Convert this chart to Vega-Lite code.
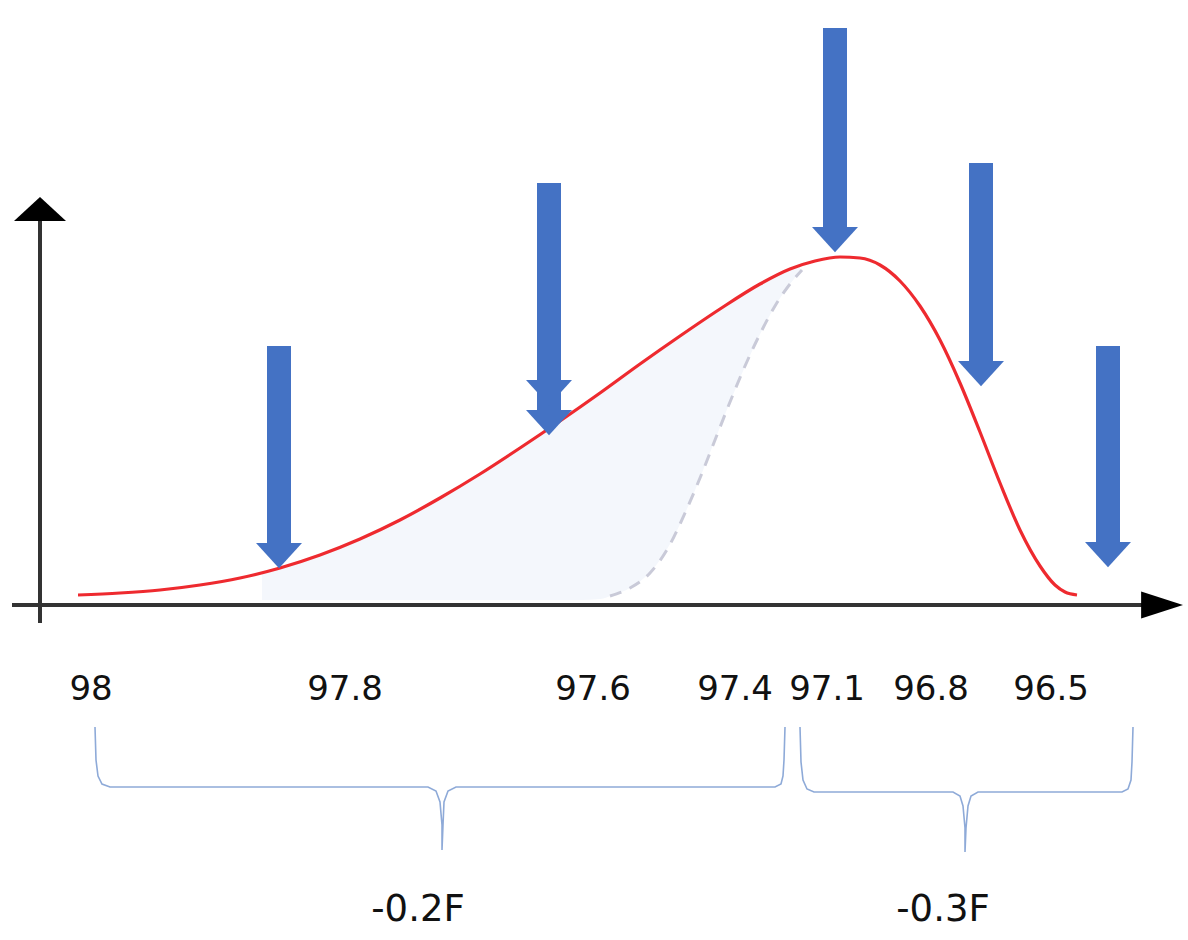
{
  "$schema": "https://vega.github.io/schema/vega-lite/v6.json",
  "width": 1188,
  "height": 940,
  "autosize": {"type": "fit", "contains": "padding"},
  "padding": 0,
  "background": "white",
  "config": {"view": {"stroke": null}},
  "datasets": {
    "curve": [
      {"x": 78, "y": 595}, {"x": 120, "y": 593}, {"x": 160, "y": 590}, {"x": 200, "y": 585},
      {"x": 240, "y": 578}, {"x": 280, "y": 568}, {"x": 320, "y": 555}, {"x": 360, "y": 539},
      {"x": 400, "y": 520}, {"x": 440, "y": 498}, {"x": 480, "y": 474}, {"x": 520, "y": 448},
      {"x": 560, "y": 421}, {"x": 600, "y": 393}, {"x": 640, "y": 364}, {"x": 680, "y": 336},
      {"x": 720, "y": 309}, {"x": 760, "y": 284}, {"x": 790, "y": 269}, {"x": 815, "y": 261},
      {"x": 840, "y": 257}, {"x": 860, "y": 258}, {"x": 880, "y": 265}, {"x": 900, "y": 281},
      {"x": 920, "y": 306}, {"x": 940, "y": 340}, {"x": 960, "y": 383}, {"x": 980, "y": 432},
      {"x": 1000, "y": 483}, {"x": 1020, "y": 530}, {"x": 1040, "y": 566}, {"x": 1055, "y": 585},
      {"x": 1065, "y": 592}, {"x": 1077, "y": 595}
    ],
    "shade": [
      {"x": 262, "top": 573, "bottom": 600}, {"x": 300, "top": 562, "bottom": 600},
      {"x": 340, "top": 547, "bottom": 600}, {"x": 380, "top": 530, "bottom": 600},
      {"x": 420, "top": 509, "bottom": 600}, {"x": 460, "top": 486, "bottom": 600},
      {"x": 500, "top": 461, "bottom": 600}, {"x": 540, "top": 435, "bottom": 600},
      {"x": 580, "top": 407, "bottom": 600}, {"x": 600, "top": 393, "bottom": 599},
      {"x": 613, "top": 384, "bottom": 595}, {"x": 630, "top": 371, "bottom": 588},
      {"x": 653, "top": 355, "bottom": 569}, {"x": 670, "top": 343, "bottom": 544},
      {"x": 690, "top": 329, "bottom": 502}, {"x": 713, "top": 314, "bottom": 445},
      {"x": 730, "top": 303, "bottom": 402}, {"x": 753, "top": 288, "bottom": 349},
      {"x": 770, "top": 279, "bottom": 315}, {"x": 790, "top": 269, "bottom": 284},
      {"x": 800, "top": 266, "bottom": 272}
    ],
    "dashed": [
      {"x": 610, "y": 596}, {"x": 630, "y": 588}, {"x": 650, "y": 573}, {"x": 668, "y": 548},
      {"x": 685, "y": 513}, {"x": 700, "y": 478}, {"x": 715, "y": 440}, {"x": 730, "y": 402},
      {"x": 745, "y": 366}, {"x": 760, "y": 334}, {"x": 775, "y": 306}, {"x": 790, "y": 284},
      {"x": 802, "y": 270}
    ],
    "axes": [
      {"axis": "y", "x": 40, "x2": 40, "y": 623, "y2": 215},
      {"axis": "x", "x": 12, "x2": 1150, "y": 605, "y2": 605}
    ],
    "axisHeadsY": [{"x": 40, "y": 197}],
    "axisHeadsX": [{"x": 1183, "y": 605}],
    "shafts": [
      {"arrow": 1, "x": 279, "y": 346, "y2": 545},
      {"arrow": 2, "x": 549, "y": 183, "y2": 412},
      {"arrow": 3, "x": 835, "y": 28, "y2": 229},
      {"arrow": 4, "x": 981, "y": 163, "y2": 363},
      {"arrow": 5, "x": 1108, "y": 346, "y2": 544}
    ],
    "heads": [
      {"arrow": 1, "x": 279, "y": 543},
      {"arrow": 2, "x": 549, "y": 380},
      {"arrow": 2, "x": 549, "y": 410},
      {"arrow": 3, "x": 835, "y": 227},
      {"arrow": 4, "x": 981, "y": 361},
      {"arrow": 5, "x": 1108, "y": 542}
    ],
    "braces": [
      {"id": "L", "o": 0, "x": 95, "y": 727}, {"id": "L", "o": 1, "x": 96, "y": 760},
      {"id": "L", "o": 2, "x": 98, "y": 776}, {"id": "L", "o": 3, "x": 102, "y": 784},
      {"id": "L", "o": 4, "x": 110, "y": 787}, {"id": "L", "o": 5, "x": 428, "y": 787},
      {"id": "L", "o": 6, "x": 436, "y": 791}, {"id": "L", "o": 7, "x": 440, "y": 802},
      {"id": "L", "o": 8, "x": 442, "y": 825}, {"id": "L", "o": 9, "x": 442, "y": 850},
      {"id": "L", "o": 10, "x": 443, "y": 825}, {"id": "L", "o": 11, "x": 444, "y": 802},
      {"id": "L", "o": 12, "x": 448, "y": 791}, {"id": "L", "o": 13, "x": 456, "y": 787},
      {"id": "L", "o": 14, "x": 775, "y": 787}, {"id": "L", "o": 15, "x": 781, "y": 784},
      {"id": "L", "o": 16, "x": 783, "y": 776}, {"id": "L", "o": 17, "x": 784, "y": 760},
      {"id": "L", "o": 18, "x": 785, "y": 727},
      {"id": "R", "o": 0, "x": 800, "y": 727}, {"id": "R", "o": 1, "x": 801, "y": 762},
      {"id": "R", "o": 2, "x": 803, "y": 780}, {"id": "R", "o": 3, "x": 807, "y": 789},
      {"id": "R", "o": 4, "x": 814, "y": 792}, {"id": "R", "o": 5, "x": 953, "y": 792},
      {"id": "R", "o": 6, "x": 960, "y": 796}, {"id": "R", "o": 7, "x": 963, "y": 806},
      {"id": "R", "o": 8, "x": 965, "y": 828}, {"id": "R", "o": 9, "x": 965, "y": 852},
      {"id": "R", "o": 10, "x": 966, "y": 828}, {"id": "R", "o": 11, "x": 968, "y": 806},
      {"id": "R", "o": 12, "x": 971, "y": 796}, {"id": "R", "o": 13, "x": 978, "y": 792},
      {"id": "R", "o": 14, "x": 1122, "y": 792}, {"id": "R", "o": 15, "x": 1128, "y": 789},
      {"id": "R", "o": 16, "x": 1131, "y": 780}, {"id": "R", "o": 17, "x": 1132, "y": 762},
      {"id": "R", "o": 18, "x": 1133, "y": 727}
    ],
    "ticks": [
      {"label": "98", "x": 91, "y": 690},
      {"label": "97.8", "x": 345, "y": 690},
      {"label": "97.6", "x": 593, "y": 690},
      {"label": "97.4", "x": 735, "y": 690},
      {"label": "97.1", "x": 827, "y": 690},
      {"label": "96.8", "x": 931, "y": 690},
      {"label": "96.5", "x": 1051, "y": 690}
    ],
    "deltas": [
      {"label": "-0.2F", "x": 418, "y": 910},
      {"label": "-0.3F", "x": 943, "y": 910}
    ]
  },
  "encoding": {
    "x": {"field": "x", "type": "quantitative", "axis": null, "scale": {"domain": [0, 1188], "nice": false, "zero": false}},
    "y": {"field": "y", "type": "quantitative", "axis": null, "scale": {"domain": [0, 940], "nice": false, "zero": false, "reverse": true}}
  },
  "layer": [
    {
      "data": {"name": "shade"},
      "mark": {"type": "area", "color": "#f4f7fc", "interpolate": "monotone"},
      "encoding": {
        "y": {"field": "top", "type": "quantitative"},
        "y2": {"field": "bottom"}
      }
    },
    {
      "data": {"name": "dashed"},
      "mark": {"type": "line", "color": "#c9cad8", "strokeWidth": 3, "strokeDash": [12, 9], "interpolate": "monotone"},
      "encoding": {}
    },
    {
      "data": {"name": "axes"},
      "mark": {"type": "rule", "color": "#333333", "strokeWidth": 4},
      "encoding": {
        "x2": {"field": "x2"},
        "y2": {"field": "y2"},
        "detail": {"field": "axis"}
      }
    },
    {
      "data": {"name": "axisHeadsY"},
      "mark": {"type": "point", "shape": "M0,0L1,0.92L-1,0.92Z", "size": 2704, "filled": true, "color": "#000000", "opacity": 1, "strokeWidth": 0}
    },
    {
      "data": {"name": "axisHeadsX"},
      "mark": {"type": "point", "shape": "M0,0L-3.1,-1L-3.1,1Z", "size": 729, "filled": true, "color": "#000000", "opacity": 1, "strokeWidth": 0}
    },
    {
      "data": {"name": "curve"},
      "mark": {"type": "line", "color": "#ee2a2f", "strokeWidth": 3.2, "interpolate": "monotone"},
      "encoding": {}
    },
    {
      "data": {"name": "shafts"},
      "mark": {"type": "rule", "color": "#4472c4", "strokeWidth": 24, "strokeCap": "butt"},
      "encoding": {
        "y2": {"field": "y2"},
        "detail": {"field": "arrow"}
      }
    },
    {
      "data": {"name": "heads"},
      "mark": {"type": "point", "shape": "M-1,0L1,0L0,1.1Z", "size": 2116, "filled": true, "color": "#4472c4", "opacity": 1, "strokeWidth": 0}
    },
    {
      "data": {"name": "braces"},
      "mark": {"type": "line", "color": "#8eaad8", "strokeWidth": 1.6},
      "encoding": {
        "detail": {"field": "id"},
        "order": {"field": "o", "type": "quantitative"}
      }
    },
    {
      "data": {"name": "ticks"},
      "mark": {"type": "text", "font": "DejaVu Sans", "fontSize": 34, "color": "#111111", "align": "center", "baseline": "middle"},
      "encoding": {"text": {"field": "label"}}
    },
    {
      "data": {"name": "deltas"},
      "mark": {"type": "text", "font": "DejaVu Sans", "fontSize": 37, "color": "#111111", "align": "center", "baseline": "middle"},
      "encoding": {"text": {"field": "label"}}
    }
  ]
}
